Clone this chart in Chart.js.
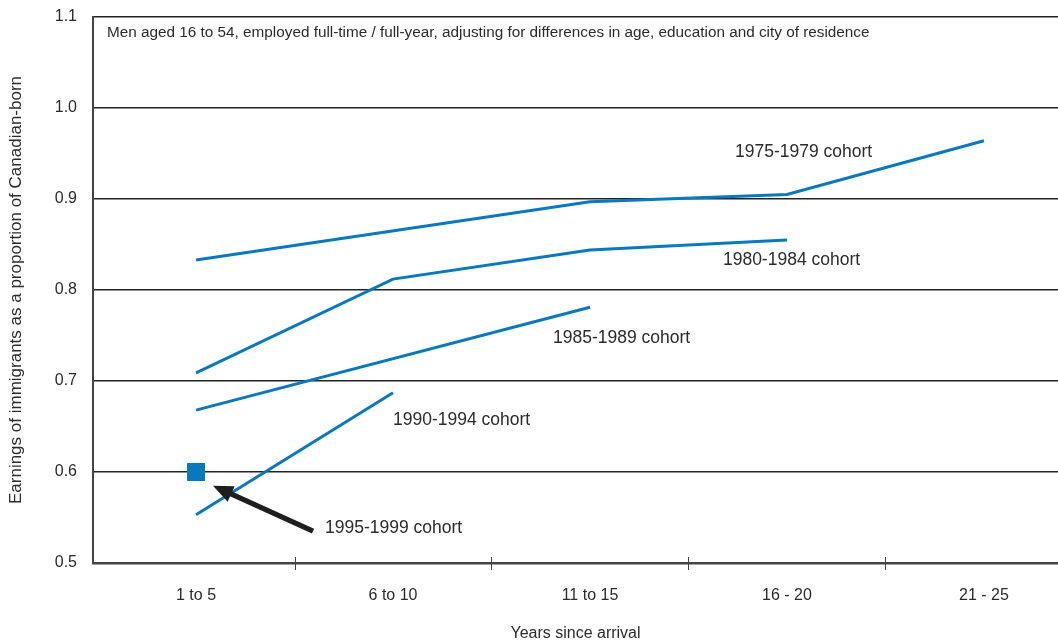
<!DOCTYPE html>
<html>
<head>
<meta charset="utf-8">
<script src="https://cdn.jsdelivr.net/npm/chart.js@4/dist/chart.umd.min.js"></script>
<style>
  html, body { margin: 0; padding: 0; background: #ffffff; }
  #wrap { width: 1058px; height: 643px; position: relative; }
</style>
</head>
<body>
<div id="wrap"><canvas id="c"></canvas></div>
<script>
// ---- data ----
const categories = ['1 to 5', '6 to 10', '11 to 15', '16 - 20', '21 - 25'];
const cohortNames = ['1975-1979 cohort', '1980-1984 cohort', '1985-1989 cohort', '1990-1994 cohort', '1995-1999 cohort'];
const cohort1975 = [0.833, null, 0.897, 0.905, 0.964];
const cohort1980 = [0.709, 0.812, 0.844, 0.855, null];
const cohort1985 = [0.668, null, 0.781, null, null];
const cohort1990 = [0.553, 0.687, null, null, null];
const cohort1995 = [0.600, null, null, null, null];
const yTickValues = [0.5, 0.6, 0.7, 0.8, 0.9, 1.0, 1.1];
const noteText = 'Men aged 16 to 54, employed full-time / full-year, adjusting for differences in age, education and city of residence';
const xTitle = 'Years since arrival';
const yTitle = 'Earnings of immigrants as a proportion of Canadian-born';

// ---- layout / annotation placement (data units) ----
const labelPlacement = [
  { x: 2.736, y: 0.952 },
  { x: 2.675, y: 0.833 },
  { x: 1.812, y: 0.747 },
  { x: 1.000, y: 0.657 },
  { x: 0.655, y: 0.538 }
];
const arrowSpec = { fromX: 0.594, fromY: 0.535, toX: 0.086, toY: 0.585 };

const BLUE = '#0a78be';
const TEXT = '#2b2b2b';
const FONT = "'Liberation Sans', Arial, Helvetica, sans-serif";

function toPoints(arr) {
  return arr.map((v, i) => ({ x: i, y: v }));
}

const series = [cohort1975, cohort1980, cohort1985, cohort1990];
const datasets = series.map((s, i) => ({
  label: cohortNames[i],
  data: toPoints(s),
  borderColor: BLUE,
  backgroundColor: BLUE,
  borderWidth: 3,
  pointRadius: 0,
  pointHoverRadius: 0,
  spanGaps: true,
  tension: 0,
  borderJoinStyle: 'miter'
}));
datasets.push({
  label: cohortNames[4],
  data: toPoints(cohort1995),
  showLine: false,
  borderColor: BLUE,
  backgroundColor: BLUE,
  pointStyle: 'rect',
  pointRadius: 12.7,
  pointBorderWidth: 0,
  pointHoverRadius: 12.7
});

const annotate = {
  id: 'annotate',
  afterDatasetsDraw(chart) {
    const ctx = chart.ctx;
    const xs = chart.scales.x, ys = chart.scales.y;
    const area = chart.chartArea;
    ctx.save();
    // category separator tick marks on x axis
    ctx.strokeStyle = '#444';
    ctx.lineWidth = 1;
    for (let i = 0; i < categories.length - 1; i++) {
      const px = Math.round(xs.getPixelForValue(i + 0.5)) + 0.5;
      ctx.beginPath();
      ctx.moveTo(px, area.bottom - 6);
      ctx.lineTo(px, area.bottom + 7);
      ctx.stroke();
    }
    // note text
    ctx.fillStyle = TEXT;
    ctx.font = '15.3px ' + FONT;
    ctx.textAlign = 'left';
    ctx.textBaseline = 'middle';
    ctx.fillText(noteText, area.left + 14, area.top + 16);
    // cohort labels
    ctx.font = '17.5px ' + FONT;
    cohortNames.forEach((name, i) => {
      const p = labelPlacement[i];
      ctx.fillText(name, xs.getPixelForValue(p.x), ys.getPixelForValue(p.y));
    });
    // arrow
    const x1 = xs.getPixelForValue(arrowSpec.fromX), y1 = ys.getPixelForValue(arrowSpec.fromY);
    const x2 = xs.getPixelForValue(arrowSpec.toX), y2 = ys.getPixelForValue(arrowSpec.toY);
    const ang = Math.atan2(y2 - y1, x2 - x1);
    const headLen = 20, headHalf = 8.5;
    const bx = x2 - headLen * Math.cos(ang), by = y2 - headLen * Math.sin(ang);
    ctx.strokeStyle = '#1e1e1e';
    ctx.fillStyle = '#1e1e1e';
    ctx.lineWidth = 5;
    ctx.lineCap = 'butt';
    ctx.beginPath();
    ctx.moveTo(x1, y1);
    ctx.lineTo(bx + 2 * Math.cos(ang), by + 2 * Math.sin(ang));
    ctx.stroke();
    ctx.beginPath();
    ctx.moveTo(x2, y2);
    ctx.lineTo(bx + headHalf * Math.sin(ang), by - headHalf * Math.cos(ang));
    ctx.lineTo(bx - headHalf * Math.sin(ang), by + headHalf * Math.cos(ang));
    ctx.closePath();
    ctx.fill();
    ctx.restore();
  }
};

const bgPlugin = {
  id: 'bg',
  beforeDraw(chart) {
    const ctx = chart.ctx;
    ctx.save();
    ctx.fillStyle = '#ffffff';
    ctx.fillRect(0, 0, chart.width, chart.height);
    ctx.restore();
  }
};

new Chart(document.getElementById('c'), {
  type: 'line',
  data: { datasets },
  plugins: [bgPlugin, annotate],
  options: {
    responsive: true,
    maintainAspectRatio: false,
    animation: false,
    layout: { autoPadding: false, padding: { left: 0, right: 0, top: 17, bottom: 0 } },
    plugins: {
      legend: { display: false },
      tooltip: { enabled: false },
      title: { display: false }
    },
    scales: {
      x: {
        type: 'linear',
        min: -0.523,
        max: 4.376,
        afterBuildTicks(scale) {
          scale.ticks = categories.map((_, i) => ({ value: i }));
        },
        afterFit(scale) {
          scale.height = 80;
          scale.paddingLeft = 0;
          scale.paddingRight = 0;
        },
        grid: { display: false, drawTicks: false },
        border: { display: true, color: '#444', width: 2.5 },
        ticks: {
          autoSkip: false,
          maxRotation: 0,
          padding: 23,
          color: TEXT,
          font: { family: FONT, size: 16 },
          callback: (v) => categories[v]
        },
        title: {
          display: true,
          text: xTitle,
          color: TEXT,
          font: { family: FONT, size: 16 },
          padding: { top: 0, bottom: 0 }
        }
      },
      y: {
        type: 'linear',
        min: 0.5,
        max: 1.1,
        afterBuildTicks(scale) {
          scale.ticks = yTickValues.map(v => ({ value: v }));
        },
        afterFit(scale) {
          scale.width = 93;
          scale.paddingTop = 0;
          scale.paddingBottom = 0;
        },
        grid: { color: '#222', lineWidth: 1.6, drawTicks: false },
        border: { display: true, color: '#444', width: 2 },
        ticks: {
          padding: 16,
          color: TEXT,
          font: { family: FONT, size: 16 },
          callback: (v) => Number(v).toFixed(1)
        },
        title: {
          display: true,
          text: yTitle,
          color: TEXT,
          font: { family: FONT, size: 17 },
          padding: { top: 6, bottom: 0 }
        }
      }
    }
  }
});
</script>
</body>
</html>
